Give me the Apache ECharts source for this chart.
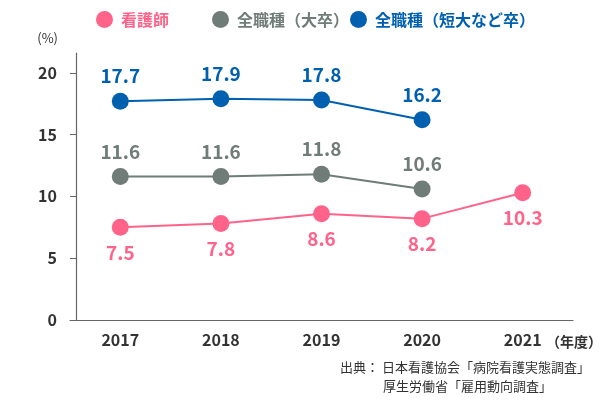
<!DOCTYPE html>
<html><head><meta charset="utf-8">
<script src="https://cdn.jsdelivr.net/npm/echarts@6/dist/echarts.min.js"></script>
<style>html,body{margin:0;padding:0;background:#fff}#c{width:600px;height:400px}</style>
</head><body><div id="c"></div>
<script>
const categories = ['2017', '2018', '2019', '2020', '2021'];
const nurse = [7.5, 7.8, 8.6, 8.2, 10.3];
const univ = [11.6, 11.6, 11.8, 10.6, null];
const college = [17.7, 17.9, 17.8, 16.2, null];
const yTicks = [0, 5, 10, 15, 20];
const names = ['看護師', '全職種（大卒）', '全職種（短大など卒）'];
const colors = ['#FF6389', '#6F7C77', '#0060B0'];
const FONT = '"Noto Sans CJK JP", "Noto Sans", sans-serif';

const chart = echarts.init(document.getElementById('c'), null, {renderer: 'canvas'});
const legendLefts = [91, 207, 345];
function mkSeries(name, data, color, pos) {
  return {
    name, type: 'line', data,
    symbol: 'circle', symbolSize: 17,
    lineStyle: {color, width: 2},
    itemStyle: {color},
    connectNulls: false,
    label: {show: true, position: pos, distance: 7, color, fontSize: 19, fontWeight: 'bold', fontFamily: FONT},
    z: 3
  };
}
chart.setOption({
  animation: false,
  textStyle: {fontFamily: FONT},
  legend: names.map((n, i) => ({
    data: [{name: n, textStyle: {color: colors[i]}}],
    left: legendLefts[i], top: 6,
    icon: 'circle', itemWidth: 17, itemHeight: 17,
    textStyle: {fontSize: 16, fontWeight: 'bold', fontFamily: FONT, padding: [0, 0, 0, 3]},
    selectedMode: false
  })),
  grid: {left: 70, right: 27, top: 53, bottom: 80},
  xAxis: {
    type: 'category', data: categories, boundaryGap: true,
    axisLine: {lineStyle: {color: '#666', width: 1.2}},
    axisTick: {alignWithLabel: true, length: 5, lineStyle: {color: '#666'}},
    axisLabel: {color: '#333', fontSize: 16, fontWeight: 'bold', margin: 12, fontFamily: FONT}
  },
  yAxis: {
    type: 'value', min: 0, max: 21.6, offset: -6,
    name: '(%)', nameLocation: 'end', nameGap: 8,
    nameTextStyle: {color: '#333', fontSize: 13, align: 'right', padding: [0, 18, 0, 0]},
    axisLine: {show: true, lineStyle: {color: '#666', width: 1.2}},
    axisTick: {show: true, length: 6, customValues: yTicks, lineStyle: {color: '#666'}},
    axisLabel: {customValues: yTicks, color: '#333', fontSize: 16, fontWeight: 'bold', margin: 19, fontFamily: FONT},
    splitLine: {show: false}
  },
  series: [
    mkSeries(names[0], nurse, colors[0], 'bottom'),
    mkSeries(names[1], univ, colors[1], 'top'),
    mkSeries(names[2], college, colors[2], 'top')
  ],
  graphic: [
    {type: 'text', left: 546, top: 335, style: {text: '（年度）', fill: '#333', font: 'bold 14px ' + FONT}},
    {type: 'text', left: 340, top: 361, style: {text: '出典： 日本看護協会「病院看護実態調査」', fill: '#333', font: '13px ' + FONT}},
    {type: 'text', left: 383, top: 380, style: {text: '厚生労働省「雇用動向調査」', fill: '#333', font: '13px ' + FONT}}
  ]
});
</script></body></html>
